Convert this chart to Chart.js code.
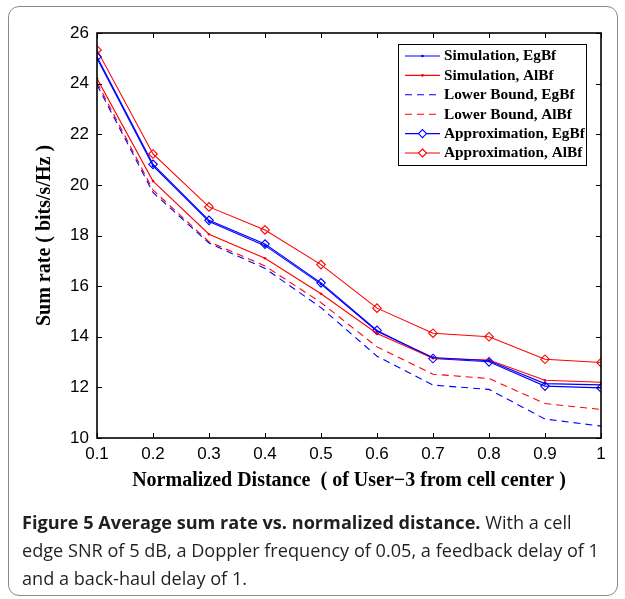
<!DOCTYPE html>
<html>
<head>
<meta charset="utf-8">
<script src="https://cdn.jsdelivr.net/npm/chart.js@4.4.1/dist/chart.umd.min.js"></script>
<style>
  html, body { margin: 0; padding: 0; background: #fff; }
  #wrap { position: relative; width: 625px; height: 599px; overflow: hidden; }
  #frame { position: absolute; left: 8px; top: 6px; width: 610px; height: 590px; border: 1px solid #8a8a8a; border-radius: 11px; box-sizing: border-box; }
  #c { position: absolute; left: 0; top: 0; }
  #caption { position: absolute; left: 22px; top: 508px; font-family: "Open Sans", sans-serif; font-size: 18.5px; color: #231f20; line-height: 28px; white-space: nowrap; transform-origin: 0 0; }
  #caption b { font-weight: 700; }
</style>
</head>
<body>
<div id="wrap">
  <div id="frame"></div>
  <canvas id="c" width="625" height="599"></canvas>
  <div id="caption">
    <div class="ln"><b>Figure 5 Average sum rate vs. normalized distance.</b> With a cell</div>
    <div class="ln" id="ln2">edge SNR of 5 dB, a Doppler frequency of 0.05, a feedback delay of 1</div>
    <div class="ln">and a back-haul delay of 1.</div>
  </div>
</div>
<script>
// ---- data ----
const distances = [0.1, 0.2, 0.3, 0.4, 0.5, 0.6, 0.7, 0.8, 0.9, 1.0];
const simEgBf   = [25.00, 20.75, 18.55, 17.60, 16.08, 14.22, 13.18, 13.05, 12.15, 12.10];
const simAlBf   = [24.20, 20.15, 18.05, 17.10, 15.70, 14.13, 13.15, 13.08, 12.28, 12.20];
const lbEgBf    = [23.95, 19.70, 17.70, 16.70, 15.15, 13.23, 12.09, 11.92, 10.75, 10.47];
const lbAlBf    = [24.05, 19.80, 17.75, 16.80, 15.35, 13.60, 12.52, 12.35, 11.36, 11.13];
const apEgBf    = [25.06, 20.81, 18.60, 17.66, 16.13, 14.25, 13.14, 13.01, 12.05, 11.98];
const apAlBf    = [25.33, 21.22, 19.13, 18.22, 16.85, 15.13, 14.14, 14.00, 13.11, 12.98];
const xTickValues = [0.1, 0.2, 0.3, 0.4, 0.5, 0.6, 0.7, 0.8, 0.9, 1.0];
const xTickLabels = ["0.1", "0.2", "0.3", "0.4", "0.5", "0.6", "0.7", "0.8", "0.9", "1"];
const yTickValues = [10, 12, 14, 16, 18, 20, 22, 24, 26];
const seriesNames = ["Simulation, EgBf", "Simulation, AlBf", "Lower Bound, EgBf", "Lower Bound, AlBf", "Approximation, EgBf", "Approximation, AlBf"];

// compress caption horizontally (uniformly) so line 2 spans the reference width
(function () {
  const el = document.getElementById('ln2');
  const r = document.createRange(); r.selectNodeContents(el);
  const w = r.getBoundingClientRect().width;
  document.getElementById('caption').style.transform = 'scaleX(' + (577 / w).toFixed(4) + ')';
})();

const pts = arr => arr.map((v, i) => ({ x: distances[i], y: v }));
const BLUE = '#0000ff', RED = '#ff0000';

function ds(label, data, color, opts) {
  return Object.assign({
    label, data: pts(data), borderColor: color, backgroundColor: color,
    borderWidth: 1.1, pointRadius: 0, fill: false, tension: 0
  }, opts);
}

const datasets = [
  ds(seriesNames[0], simEgBf, BLUE, { pointRadius: 1.3, pointStyle: 'circle', pointBorderWidth: 0 }),
  ds(seriesNames[1], simAlBf, RED,  { pointRadius: 1.3, pointStyle: 'circle', pointBorderWidth: 0 }),
  ds(seriesNames[2], lbEgBf, BLUE, { borderDash: [7, 5] }),
  ds(seriesNames[3], lbAlBf, RED,  { borderDash: [7, 5] }),
  ds(seriesNames[4], apEgBf, BLUE, { pointRadius: 4.3, pointStyle: 'rectRot', pointBackgroundColor: 'rgba(0,0,0,0)', pointBorderColor: BLUE, pointBorderWidth: 1.1 }),
  ds(seriesNames[5], apAlBf, RED,  { pointRadius: 4.3, pointStyle: 'rectRot', pointBackgroundColor: 'rgba(0,0,0,0)', pointBorderColor: RED, pointBorderWidth: 1.1 })
];

const boxPlugin = {
  id: 'matlabBox',
  afterDraw(chart) {
    const { ctx, chartArea: a, scales } = chart;
    const tl = 5;
    ctx.save();
    ctx.strokeStyle = '#000';
    ctx.lineWidth = 1;
    ctx.beginPath();
    scales.x.ticks.forEach(t => {
      const px = Math.round(scales.x.getPixelForValue(t.value)) + 0.5;
      ctx.moveTo(px, a.bottom); ctx.lineTo(px, a.bottom - tl);
      ctx.moveTo(px, a.top); ctx.lineTo(px, a.top + tl);
    });
    scales.y.ticks.forEach(t => {
      const py = Math.round(scales.y.getPixelForValue(t.value)) + 0.5;
      ctx.moveTo(a.left, py); ctx.lineTo(a.left + tl, py);
      ctx.moveTo(a.right, py); ctx.lineTo(a.right - tl, py);
    });
    ctx.stroke();
    ctx.lineWidth = 1.6;
    ctx.strokeRect(a.left, a.top, a.right - a.left, a.bottom - a.top);

    // legend
    const lx = 398, ly = 44, lw = 188, lh = 121;
    ctx.fillStyle = '#fff';
    ctx.fillRect(lx, ly, lw, lh);
    ctx.lineWidth = 1;
    ctx.strokeStyle = '#000';
    ctx.strokeRect(lx + 0.5, ly + 0.5, lw, lh);
    ctx.font = 'bold 15.3px "Liberation Serif"';
    ctx.textBaseline = 'middle';
    chart.data.datasets.forEach((d, i) => {
      const cy = 56 + i * 19.4;
      ctx.save();
      ctx.strokeStyle = d.borderColor;
      ctx.lineWidth = 1.1;
      if (d.borderDash) ctx.setLineDash(d.borderDash);
      ctx.beginPath();
      ctx.moveTo(405, cy); ctx.lineTo(440, cy);
      ctx.stroke();
      ctx.setLineDash([]);
      if (d.pointStyle === 'rectRot') {
        ctx.beginPath();
        ctx.moveTo(422.5, cy - 4); ctx.lineTo(426.5, cy); ctx.lineTo(422.5, cy + 4); ctx.lineTo(418.5, cy); ctx.closePath();
        ctx.fillStyle = '#fff'; ctx.fill();
        ctx.strokeStyle = d.borderColor;
        ctx.stroke();
      } else if (d.pointStyle === 'circle') {
        ctx.beginPath(); ctx.arc(422.5, cy, 1.3, 0, Math.PI * 2); ctx.fillStyle = d.borderColor; ctx.fill();
      }
      ctx.restore();
      ctx.fillStyle = '#000';
      ctx.fillText(d.label, 444, cy + 0.5);
    });
    ctx.restore();
  }
};

new Chart(document.getElementById('c'), {
  type: 'line',
  data: { datasets },
  options: {
    responsive: false,
    animation: false,
    devicePixelRatio: 1,
    layout: { padding: { left: 0, top: 33, right: 24, bottom: 101 } },
    plugins: { legend: { display: false }, tooltip: { enabled: false } },
    scales: {
      x: {
        type: 'linear', min: 0.1, max: 1.0,
        afterBuildTicks: s => { s.ticks = xTickValues.map(v => ({ value: v })); },
        afterFit: s => { s.height = 60; },
        grid: { display: false, drawTicks: false },
        border: { display: false },
        ticks: {
          padding: 6, color: '#000', maxRotation: 0, autoSkip: false,
          font: { family: 'Liberation Sans', size: 17 },
          callback: v => { const i = xTickValues.findIndex(t => Math.abs(t - v) < 1e-9); return i >= 0 ? xTickLabels[i] : ''; }
        },
        title: {
          display: true, text: 'Normalized Distance  ( of User\u22123 from cell center )',
          color: '#000', font: { family: 'Liberation Serif', size: 20, weight: 'bold' },
          padding: { top: 0, bottom: 5 }
        }
      },
      y: {
        type: 'linear', min: 10, max: 26,
        afterBuildTicks: s => { s.ticks = yTickValues.map(v => ({ value: v })); },
        afterFit: s => { s.width = 97; },
        grid: { display: false, drawTicks: false },
        border: { display: false },
        ticks: {
          padding: 8, color: '#000', autoSkip: false,
          font: { family: 'Liberation Sans', size: 17 },
          callback: v => String(v)
        },
        title: {
          display: true, text: 'Sum rate ( bits/s/Hz )',
          color: '#000', font: { family: 'Liberation Serif', size: 20, weight: 'bold' },
          padding: { top: 33, bottom: 0 }
        }
      }
    }
  },
  plugins: [boxPlugin]
});
</script>
</body>
</html>
